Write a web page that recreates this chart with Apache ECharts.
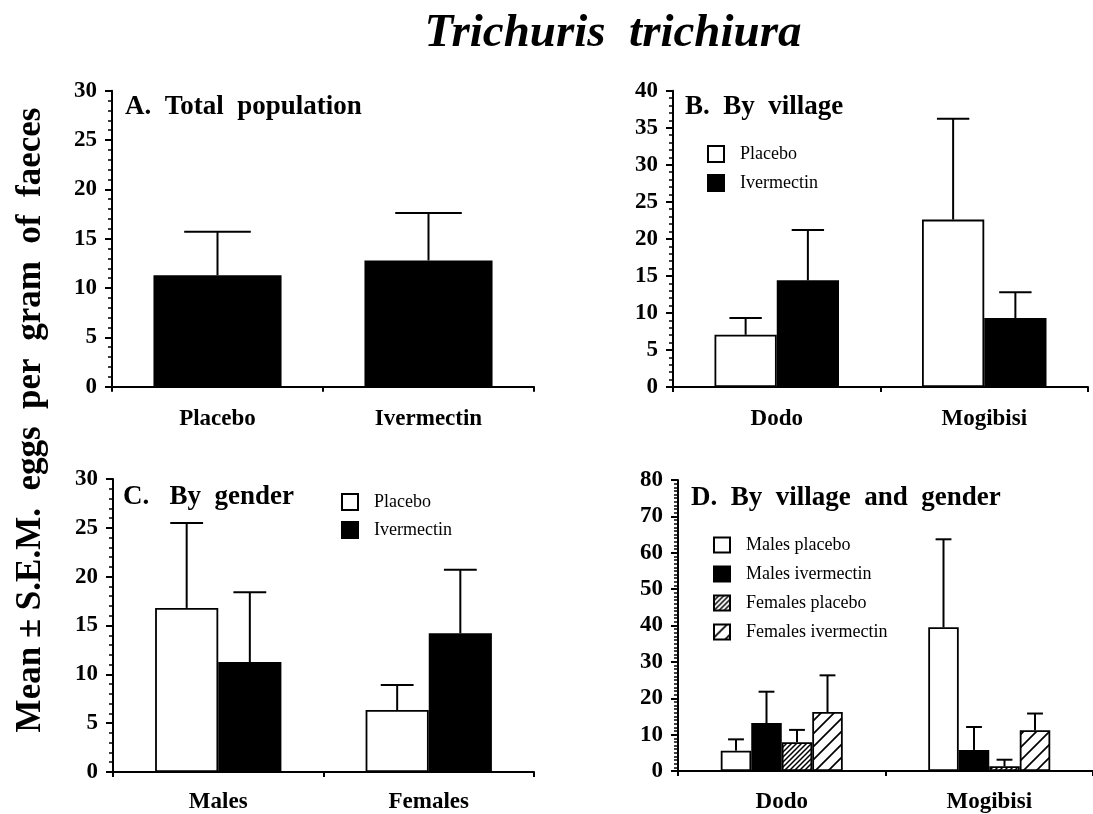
<!DOCTYPE html>
<html>
<head>
<meta charset="utf-8">
<script src="https://cdn.jsdelivr.net/npm/echarts@6/dist/echarts.min.js"></script>
<style>
html,body{margin:0;padding:0;background:#fff;}
#chart{width:1093px;height:814px;}
</style>
</head>
<body>
<div id="chart"></div>
<script>
// ---------------- data ----------------
const mainTitle = 'Trichuris  trichiura';
const yAxisTitle = 'Mean \u00b1 S.E.M.  eggs  per  gram  of  faeces';
const panelTitles = ['A.  Total  population', 'B.  By  village', 'C.   By  gender', 'D.  By  village  and  gender'];

// Panel A
const catA = ['Placebo', 'Ivermectin'];
const meanA = [11.3, 12.8];
const topA = [15.7, 17.6];

// Panel B
const catB = ['Dodo', 'Mogibisi'];
const placeboB = [7.05, 22.6];
const placeboTopB = [9.3, 36.2];
const iverB = [14.4, 9.3];
const iverTopB = [21.2, 12.8];

// Panel C
const catC = ['Males', 'Females'];
const placeboC = [16.8, 6.35];
const placeboTopC = [25.5, 8.9];
const iverC = [11.25, 14.2];
const iverTopC = [18.4, 20.7];

// Panel D
const catD = ['Dodo', 'Mogibisi'];
const malesPlaceboD = [5.6, 39.5];
const malesPlaceboTopD = [8.7, 63.7];
const malesIverD = [13.2, 5.8];
const malesIverTopD = [21.8, 12.1];
const femalesPlaceboD = [7.9, 1.3];
const femalesPlaceboTopD = [11.3, 3.1];
const femalesIverD = [16.2, 11.2];
const femalesIverTopD = [26.3, 15.8];

const yMaxA = 30, yMaxB = 40, yMaxC = 30, yMaxD = 80;

// ---------------- styles ----------------
function hatch(size, lw) {
  const c = document.createElement('canvas');
  c.width = size; c.height = size;
  const g = c.getContext('2d');
  g.fillStyle = '#fff'; g.fillRect(0, 0, size, size);
  g.strokeStyle = '#000'; g.lineWidth = lw;
  g.beginPath();
  g.moveTo(-1, size + 1); g.lineTo(size + 1, -1);
  g.moveTo(-1, 1); g.lineTo(1, -1);
  g.moveTo(size - 1, size + 1); g.lineTo(size + 1, size - 1);
  g.stroke();
  return { image: c, repeat: 'repeat' };
}
const denseHatch = hatch(5, 1.5);
const sparseHatch = hatch(13, 1.7);

const serif = '"Liberation Serif", "Times New Roman", serif';
const white = { color: '#fff', borderColor: '#000', borderWidth: 1.8 };
const black = { color: '#000', borderColor: '#000', borderWidth: 1.8 };

function xAxis(gi, cats, margin) {
  return {
    type: 'category', gridIndex: gi, data: cats,
    axisLine: { lineStyle: { color: '#000', width: 2 } },
    axisTick: { show: true, alignWithLabel: false, length: 5, lineStyle: { color: '#000', width: 2 } },
    axisLabel: { color: '#000', fontFamily: serif, fontWeight: 'bold', fontSize: 23, margin: margin },
    splitLine: { show: false }
  };
}
function yAxis(gi, max, interval, minorSplit) {
  return {
    type: 'value', gridIndex: gi, min: 0, max: max, interval: interval,
    axisLine: { show: true, lineStyle: { color: '#000', width: 2 } },
    axisTick: { show: true, length: 7, lineStyle: { color: '#000', width: 2 } },
    minorTick: { show: true, splitNumber: minorSplit, length: 4, lineStyle: { color: '#000', width: 1.5 } },
    axisLabel: { color: '#000', fontFamily: serif, fontWeight: 'bold', fontSize: 23, margin: 15 },
    splitLine: { show: false }, minorSplitLine: { show: false }
  };
}

function errRender(n, frac) {
  return function (params, api) {
    const idx = api.value(0);
    const k = api.value(3);
    const base = api.coord([idx, api.value(1)]);
    const top = api.coord([idx, api.value(2)]);
    const band = api.size([1, 0])[0];
    const bw = band * frac;
    const x = base[0] + (k - (n - 1) / 2) * bw;
    const half = bw * 0.26;
    return {
      type: 'group',
      children: [
        { type: 'line', shape: { x1: x, y1: base[1], x2: x, y2: top[1] }, style: { stroke: '#000', lineWidth: 2 } },
        { type: 'line', shape: { x1: x - half, y1: top[1], x2: x + half, y2: top[1] }, style: { stroke: '#000', lineWidth: 2 } }
      ]
    };
  };
}
function errData(groups) {
  const out = [];
  groups.forEach((g, k) => {
    g[0].forEach((m, i) => out.push([i, m, g[1][i], k]));
  });
  return out;
}
function bar(name, gi, data, style, width) {
  return {
    type: 'bar', name: name, xAxisIndex: gi, yAxisIndex: gi, data: data,
    barWidth: width, barGap: '0%', itemStyle: style, silent: true, animation: false
  };
}
function errSeries(gi, groups, frac) {
  return {
    type: 'custom', xAxisIndex: gi, yAxisIndex: gi, renderItem: errRender(groups.length, frac),
    data: errData(groups), dimensions: ['x', 'mean', 'top', 'k'], encode: { x: 0, y: 1 },
    silent: true, animation: false, z: 3
  };
}

const fracA = 0.607, fracB = 0.30, fracC = 0.30, fracD = 0.147;

const legendText = { fontFamily: serif, fontSize: 18, color: '#000', padding: [0, 0, 0, 11] };

const option = {
  backgroundColor: '#fff',
  animation: false,
  title: {
    text: mainTitle, left: 608, top: 5, textAlign: 'center',
    textStyle: { fontFamily: serif, fontStyle: 'italic', fontWeight: 'bold', fontSize: 47, color: '#000' }
  },
  grid: [
    { left: 112, top: 90.7, width: 422, height: 296 },
    { left: 673, top: 90.7, width: 415, height: 296.3 },
    { left: 113, top: 479, width: 421, height: 294 },
    { left: 678, top: 480, width: 423, height: 293 }
  ],
  xAxis: [xAxis(0, catA, 21), xAxis(1, catB, 21), xAxis(2, catC, 19), xAxis(3, catD, 20)],
  yAxis: [yAxis(0, yMaxA, 5, 5), yAxis(1, yMaxB, 5, 5), yAxis(2, yMaxC, 5, 5), yAxis(3, yMaxD, 10, 10)],
  legend: [
    { orient: 'vertical', left: 702, top: 140, itemWidth: 16, itemHeight: 16, itemGap: 11, icon: 'rect',
      data: [{ name: 'Placebo' }, { name: 'Ivermectin' }], textStyle: legendText, selectedMode: false },
    { orient: 'vertical', left: 336, top: 488, itemWidth: 16, itemHeight: 16, itemGap: 10, icon: 'rect',
      data: [{ name: 'Placebo' }, { name: 'Ivermectin' }], textStyle: legendText, selectedMode: false },
    { orient: 'vertical', left: 708, top: 531, itemWidth: 16, itemHeight: 15, itemGap: 11, icon: 'rect',
      data: [{ name: 'Males placebo' }, { name: 'Males ivermectin' }, { name: 'Females placebo' }, { name: 'Females ivermectin' }],
      textStyle: legendText, selectedMode: false }
  ],
  graphic: [
    { type: 'text', x: 31, y: 420, rotation: Math.PI / 2,
      style: { text: yAxisTitle, fontFamily: serif, fontWeight: 'bold', fontSize: 35, fill: '#000', textAlign: 'center', textVerticalAlign: 'middle' } },
    { type: 'text', x: 125, y: 107, style: { text: panelTitles[0], fontFamily: serif, fontWeight: 'bold', fontSize: 27, fill: '#000', textVerticalAlign: 'middle' } },
    { type: 'text', x: 685, y: 107, style: { text: panelTitles[1], fontFamily: serif, fontWeight: 'bold', fontSize: 27, fill: '#000', textVerticalAlign: 'middle' } },
    { type: 'text', x: 123, y: 497, style: { text: panelTitles[2], fontFamily: serif, fontWeight: 'bold', fontSize: 27, fill: '#000', textVerticalAlign: 'middle' } },
    { type: 'text', x: 691, y: 498, style: { text: panelTitles[3], fontFamily: serif, fontWeight: 'bold', fontSize: 27, fill: '#000', textVerticalAlign: 'middle' } }
  ],
  series: [
    bar('Total', 0, meanA, black, (fracA * 100) + '%'),
    errSeries(0, [[meanA, topA]], fracA),

    bar('Placebo', 1, placeboB, white, (fracB * 100) + '%'),
    bar('Ivermectin', 1, iverB, black, (fracB * 100) + '%'),
    errSeries(1, [[placeboB, placeboTopB], [iverB, iverTopB]], fracB),

    bar('Placebo', 2, placeboC, white, (fracC * 100) + '%'),
    bar('Ivermectin', 2, iverC, black, (fracC * 100) + '%'),
    errSeries(2, [[placeboC, placeboTopC], [iverC, iverTopC]], fracC),

    bar('Males placebo', 3, malesPlaceboD, white, (fracD * 100) + '%'),
    bar('Males ivermectin', 3, malesIverD, black, (fracD * 100) + '%'),
    bar('Females placebo', 3, femalesPlaceboD, Object.assign({}, white, { color: denseHatch }), (fracD * 100) + '%'),
    bar('Females ivermectin', 3, femalesIverD, Object.assign({}, white, { color: sparseHatch }), (fracD * 100) + '%'),
    errSeries(3, [[malesPlaceboD, malesPlaceboTopD], [malesIverD, malesIverTopD], [femalesPlaceboD, femalesPlaceboTopD], [femalesIverD, femalesIverTopD]], fracD)
  ]
};

const chart = echarts.init(document.getElementById('chart'), null, { renderer: 'canvas' });
chart.setOption(option);
</script>
</body>
</html>
